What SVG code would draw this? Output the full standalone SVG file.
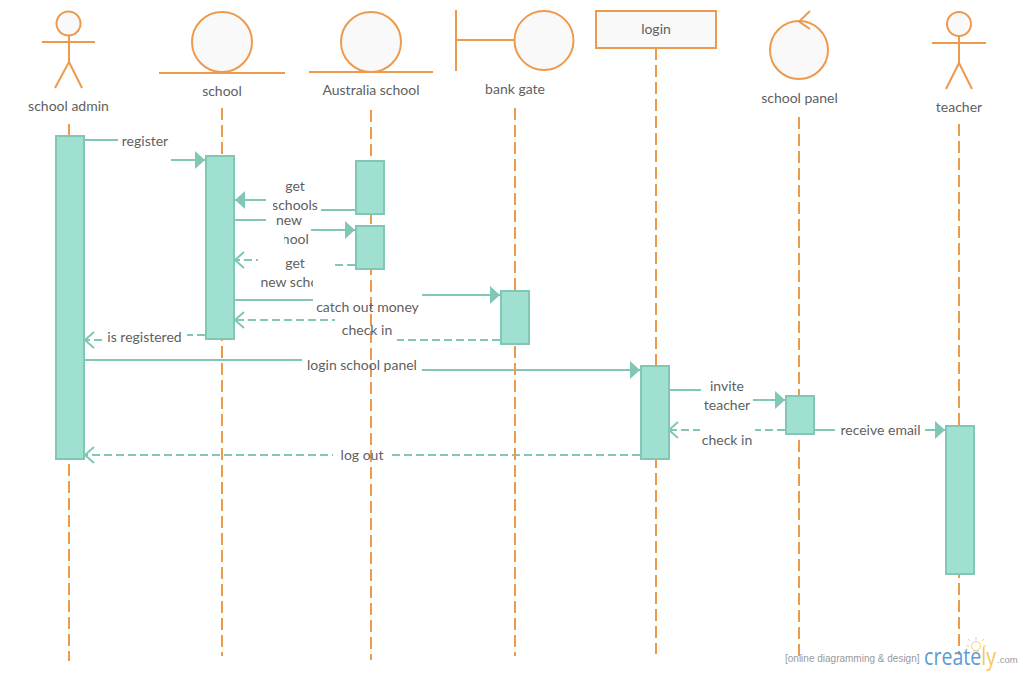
<svg xmlns="http://www.w3.org/2000/svg" width="1023" height="674" viewBox="0 0 1023 674">
<style>
text{font-family:Lato,"Open Sans","Liberation Sans",sans-serif;font-size:14px;fill:#5f5f5f;text-anchor:middle}
.o{fill:none;stroke:#EE9A4D;stroke-width:2}
.f{fill:#F9F9F9;stroke:#EE9A4D;stroke-width:2}
.l{fill:none;stroke:#EE9A4D;stroke-width:2;stroke-dasharray:12 5}
.c{fill:none;stroke:#80C7B5;stroke-width:2}
.s{marker-end:url(#solid)}
.d{stroke-dasharray:8 4;marker-end:url(#open)}
.a{fill:#9FE0D0;stroke:#80C7B5;stroke-width:2}
.b{fill:#fff}
</style>
<defs>
<marker id="solid" markerUnits="userSpaceOnUse" markerWidth="12" markerHeight="20" refX="10" refY="10" orient="auto"><path d="M0 1L10 10L0 19Z" fill="#80C7B5"/></marker>
<marker id="open" markerUnits="userSpaceOnUse" markerWidth="12" markerHeight="20" refX="10" refY="10" orient="auto"><path d="M1 2L10 10L1 18" fill="none" stroke="#80C7B5" stroke-width="2"/></marker>
</defs>
<rect width="1023" height="674" fill="#fff"/>
<g id="connectors">
<path class="c s" d="M85 140H145V160H205"/>
<path class="c s" d="M355 210H295V200H235"/>
<path class="c s" d="M235 220H289V230H355"/>
<path class="c d" d="M355 265H295V260H235"/>
<path class="c s" d="M235 300H368V295H500"/>
<path class="c d" d="M500 340H367V320H235"/>
<path class="c d" d="M205 335H145V340H85"/>
<path class="c s" d="M85 360H362V370H640"/>
<path class="c s" d="M670 390H727V400H785"/>
<path class="c d" d="M785 430H669"/>
<path class="c s" d="M815 430H945"/>
<path class="c d" d="M640 455H85"/>
<g class="b">
<rect x="118" y="130" width="53" height="40"/>
<rect x="266" y="177" width="55" height="38"/>
<rect x="266" y="211" width="45" height="40"/>
<rect x="258" y="253" width="75" height="40"/>
<rect x="313" y="290" width="109" height="24"/>
<rect x="335" y="316" width="62" height="30"/>
<rect x="102" y="326" width="85" height="20"/>
<rect x="302" y="352" width="120" height="24"/>
<rect x="701" y="378" width="52" height="36"/>
<rect x="700" y="420" width="55" height="32"/>
<rect x="835" y="420" width="90" height="20"/>
<rect x="333" y="445" width="56" height="20"/>
</g>
</g>
<g id="lifelines">
<path class="l" d="M69 124V661"/>
<path class="l" d="M222 108V656"/>
<path class="l" d="M371 110V660"/>
<path class="l" d="M515 108V656"/>
<path class="l" d="M656 48V654"/>
<path class="l" d="M799 117V656"/>
<path class="l" d="M959 124V655"/>
</g>
<g id="activations">
<rect class="a" x="56" y="136" width="28" height="323"/>
<rect class="a" x="206" y="156" width="28" height="183"/>
<rect class="a" x="356" y="161" width="28" height="53"/>
<rect class="a" x="356" y="226" width="28" height="43"/>
<rect class="a" x="501" y="291" width="28" height="53"/>
<rect class="a" x="641" y="366" width="28" height="93"/>
<rect class="a" x="786" y="396" width="28" height="38"/>
<rect class="a" x="946" y="426" width="28" height="148"/>
</g>
<g id="labels">
<text x="145" y="146">register</text>
<text x="295" y="191">get</text>
<text x="295" y="210">schools</text>
<rect class="b" x="266" y="198" width="7" height="17"/>
<text x="289" y="225">new</text>
<text x="289" y="244">school</text>
<rect class="b" x="266" y="232" width="18" height="18"/>
<text x="295" y="268">get</text>
<text x="295" y="287">new school</text>
<rect class="b" x="313" y="274" width="30" height="18"/>
<text x="367.500" y="312">catch out money</text>
<text x="367" y="335">check in</text>
<text x="144.500" y="342">is registered</text>
<text x="362" y="370">login school panel</text>
<text x="727" y="391">invite</text>
<text x="727" y="410">teacher</text>
<text x="727" y="445">check in</text>
<text x="880.500" y="435">receive email</text>
<text x="362" y="460">log out</text>
</g>
<g id="school-admin">
<circle class="f" cx="68.500" cy="23.500" r="12"/>
<path class="o" d="M42 42H95M69 35V62L55 88M69 62L82 88"/>
<text x="68.500" y="111">school admin</text>
</g>
<g id="school">
<circle class="f" cx="222" cy="42" r="30"/>
<path class="o" d="M159 73H285"/>
<text x="222" y="96">school</text>
</g>
<g id="australia-school">
<circle class="f" cx="371" cy="42" r="30"/>
<path class="o" d="M309 72H433"/>
<text x="371" y="95">Australia school</text>
</g>
<g id="bank-gate">
<path class="o" d="M456 10V71M456 40H515"/>
<circle class="f" cx="544" cy="40.500" r="29.500"/>
<text x="515" y="94">bank gate</text>
</g>
<g id="login">
<rect class="f" x="596" y="11" width="120" height="37"/>
<text x="656" y="34">login</text>
</g>
<g id="school-panel">
<circle class="f" cx="799" cy="50" r="29"/>
<path class="o" d="M810 11L799 21.500L810 29"/>
<text x="799.500" y="103">school panel</text>
</g>
<g id="teacher">
<circle class="f" cx="959" cy="24" r="12"/>
<path class="o" d="M932 43H986M959 36V63L946 89M959 63L972 89"/>
<text x="959" y="112">teacher</text>
</g>
<g id="watermark">
<g fill="none" stroke="#F7CF7A" stroke-width="1"><circle cx="976" cy="646" r="4.500"/><path d="M976 637V640M968 639L970 641M984 639L982 641M966 646H969M986 646H983M973 651H979"/></g>
<text x="785" y="662" style="font-family:'Liberation Sans',sans-serif;font-size:10px;fill:#999;text-anchor:start">[online diagramming &amp; design]</text>
<text x="924" y="665" textLength="72" lengthAdjust="spacingAndGlyphs" style="font-family:'Open Sans','Liberation Sans',sans-serif;font-size:24px;fill:#5B9BD5;text-anchor:start">create<tspan fill="#F7C65E">ly</tspan></text>
<text x="997" y="663" style="font-family:'Liberation Sans',sans-serif;font-size:9.500px;fill:#999;text-anchor:start">.com</text>
</g>
</svg>
